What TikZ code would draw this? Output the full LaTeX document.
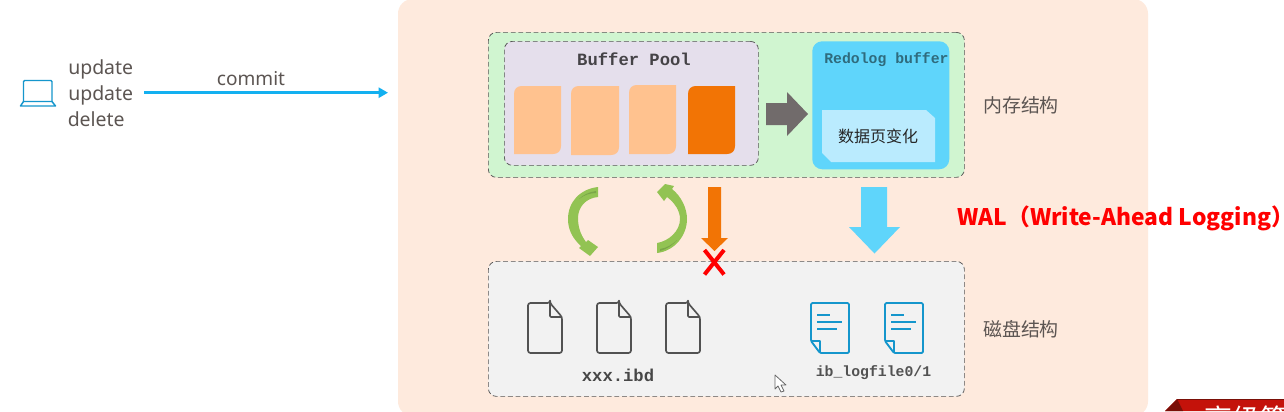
\documentclass[tikz,border=0pt]{standalone}
\usepackage{fontspec}
\setmainfont{Noto Sans}
\setmonofont{Liberation Mono}
\newfontfamily\cjk{Noto Sans CJK SC}
\usetikzlibrary{arrows.meta}
\definecolor{peach}{HTML}{FEEADD}
\definecolor{memgreen}{HTML}{D0F5D0}
\definecolor{poolbg}{HTML}{E5DFEC}
\definecolor{pagelight}{HTML}{FFC28F}
\definecolor{pagedark}{HTML}{F27405}
\definecolor{skyblue}{HTML}{5FD5FB}
\definecolor{paleblue}{HTML}{BAEBFE}
\definecolor{diskgray}{HTML}{F2F2F2}
\definecolor{dashgray}{HTML}{555555}
\definecolor{leaf}{HTML}{92C353}
\definecolor{leafdark}{HTML}{7AA648}
\definecolor{iconblue}{HTML}{1596CC}
\definecolor{linkblue}{HTML}{13B0F0}
\definecolor{textgray}{HTML}{5C5552}
\definecolor{slatearrow}{HTML}{716B6B}
\definecolor{bannerred}{HTML}{C4120A}
\definecolor{bannerdark}{HTML}{7A0F08}
\tikzset{
  x=0.75pt,y=-0.75pt,
  dashbox/.style={draw=dashgray,line width=0.55pt,dash pattern=on 3.6pt off 2.1pt,rounded corners=6pt},
  label/.style={inner sep=0pt,text=textgray,font=\cjk\fontsize{14.2}{16}\selectfont},
  monob/.style={inner sep=0pt,font=\ttfamily\bfseries\fontsize{12.9}{14}\selectfont,text=black!70!poolbg},
  monos/.style={inner sep=0pt,font=\ttfamily\bfseries\fontsize{11.1}{13}\selectfont},
  opword/.style={inner sep=0pt,anchor=base west,text=textgray,font=\fontsize{14.6}{17}\selectfont},
  docicon/.style={draw=black!68,line width=1.25pt,rounded corners=1.8pt,line join=round},
  logicon/.style={draw=iconblue,line width=1.4pt,line join=round},
  logline/.style={draw=iconblue,line width=1.3pt},
  leafshape/.style={fill=leaf,draw=none},
}
\newcommand{\pagecard}[5]{\fill[#5] (#1+8,#2) -- (#3,#2) -- (#3,#4-8) .. controls (#3,#4-3) and (#3-3,#4) .. (#3-8,#4) -- (#1,#4) -- (#1,#2+8) .. controls (#1,#2+3) and (#1+3,#2) .. (#1+8,#2) -- cycle;}
\newcommand{\docfile}[1]{\begin{scope}[shift={(#1,303)}]
  \draw[docicon] (22,0) -- (0,0) -- (0,50) -- (34,50) -- (34,14) -- (22,0) -- cycle;
  \draw[docicon,rounded corners=0.8pt] (22,0) -- (22,14) -- (34,14);
\end{scope}}
\newcommand{\logfile}[1]{\begin{scope}[shift={(#1,303)}]
  \draw[logicon,rounded corners=1pt] (0,38) -- (0,0) -- (38,0) -- (38,50) -- (9,50) -- cycle;
  \draw[logicon] (0,38) -- (9,38) -- (9,50);
  \draw[logline] (6,12) -- (19,12);
  \draw[logline] (6,19) -- (31,19);
  \draw[logline] (6,26) -- (26,26);
\end{scope}}
\begin{document}
\begin{tikzpicture}
\useasboundingbox (0,0) rectangle (1284,411);
\fill[white] (0,0) rectangle (1284,411);
% panel
\begin{scope}
\clip (0,0) rectangle (1284,411);
\fill[peach,rounded corners=11pt] (398,-1) rectangle (1148,416);
\end{scope}
% containers
\node[dashbox,fill=memgreen,minimum width=357pt,minimum height=108.75pt,inner sep=0pt,anchor=north west] (mem) at (488,32) {};
\node[dashbox,fill=poolbg,minimum width=190.5pt,minimum height=93pt,inner sep=0pt,anchor=north west] (pool) at (504,41) {};
\node[dashbox,fill=diskgray,minimum width=357pt,minimum height=101.25pt,inner sep=0pt,anchor=north west] (disk) at (488,261) {};
\node[fill=skyblue,rounded corners=7.5pt,minimum width=102.75pt,minimum height=96pt,inner sep=0pt,anchor=north west] (redo) at (812,41) {};
% buffer pool
\node[monob] (pooltitle) at (634,59.5) {Buffer Pool};
\pagecard{514}{86}{561}{154}{pagelight}
\pagecard{571}{86}{619}{155}{pagelight}
\pagecard{629}{85}{676}{154}{pagelight}
\pagecard{688}{86}{735}{154}{pagedark}
% redo
\node[monos,text=black!50!skyblue,anchor=west] (redotitle) at (824,59.5) {Redolog buffer};
\fill[paleblue] (822,110) -- (926,110) -- (935,118) -- (935,162) -- (831,162) -- (822,153) -- cycle;
\node[inner sep=0pt,font=\cjk\fontsize{12}{14}\selectfont,text=black!85] (change) at (878,136) {数据页变化};
% gray arrow
\fill[slatearrow] (766,103) -- (787,103) -- (787,92) -- (808,114) -- (787,136) -- (787,125) -- (766,125) -- cycle;
% labels
\node[label] (memlabel) at (1021,105) {内存结构};
\node[label] (disklabel) at (1021,329) {磁盘结构};
% green curved arrows
\fill[leafshape] (598,187) .. controls (580,189) and (568,202) .. (568,219) .. controls (568,229) and (572,238) .. (581,246) -- (579,248) -- (590,256) -- (598,247) -- (588,240) -- (586,242) .. controls (580,234) and (578,226) .. (578,218) .. controls (578,207) and (586,198) .. (598,197) -- cycle;
\fill[leafdark] (596,191) .. controls (589,192) and (583,195) .. (579,199) .. controls (584,195) and (590,193) .. (596,193) -- cycle;
\fill[leafshape] (657,253) .. controls (675,251) and (687,235) .. (687,219) .. controls (687,208) and (681,196) .. (672,189) -- (674,186) -- (665,184) -- (657,192) -- (664,201) -- (667,197) .. controls (675,203) and (680,211) .. (680,219) .. controls (680,231) and (669,241) .. (657,243) -- cycle;
\fill[leafdark] (660,249) .. controls (667,248) and (673,244) .. (677,240) .. controls (673,245) and (667,249) .. (660,251) -- cycle;
% orange arrow
\fill[pagedark] (708,187) -- (721,187) -- (721,238) -- (728,238) -- (714.5,251) -- (701,238) -- (708,238) -- cycle;
% blue arrow
\fill[skyblue] (861,187) -- (887,187) -- (887,227) -- (900,227) -- (874.5,253.5) -- (849,227) -- (861,227) -- cycle;
% red cross
\draw[red,line width=3pt] (704.5,250) -- (724,274.5);
\draw[red,line width=3pt] (724,250) -- (704.5,274.5);
% WAL
\node[inner sep=0pt,anchor=west,text=red,font=\cjk\bfseries\fontsize{17.1}{19}\selectfont] (wal) at (957,218) {WAL（Write-Ahead Logging）};
% files
\docfile{528}
\docfile{597}
\docfile{666}
\logfile{811}
\logfile{885}
\node[monob,text=black!72] (ibd) at (618,375) {xxx.ibd};
\node[monos,text=black!68] (iblog) at (873.5,373) {ib\_logfile0/1};
% client
\draw[draw=iconblue,line width=1pt,rounded corners=0.8pt] (23.5,102) -- (23.5,80.5) -- (52,80.5) -- (52,102);
\draw[draw=iconblue,line width=1.1pt,line join=round] (23.5,101.5) -- (20.5,106) -- (55.5,106) -- (52,101.5) -- cycle;
\node[opword] (op1) at (68,74) {update};
\node[opword] (op2) at (68,100) {update};
\node[opword] (op3) at (67.5,126) {delete};
\coordinate (commitstart) at (144,92.7);
\coordinate (commitend) at (388,92.7);
\draw[draw=linkblue,line width=2pt,-{Triangle[length=7pt,width=7.5pt]}] (commitstart) -- (commitend);
\node[inner sep=0pt,text=textgray,font=\fontsize{14.3}{17}\selectfont] (commit) at (251,79) {commit};
% cursor
\draw[draw=black!60,fill=white,line width=0.6pt,line join=round] (775,375) -- (775,389) -- (778,386) -- (781,392) -- (784,391) -- (781,385) -- (786,385) -- cycle;
% banner
\begin{scope}
\clip (0,0) rectangle (1284,411);
\fill[bannerred] (1165,411) -- (1177,399) -- (1284,399) -- (1284,411) -- cycle;
\fill[bannerdark] (1165,411) -- (1177,399) -- (1183,411) -- cycle;
\draw[bannerdark,line width=0.6pt] (1177,399) -- (1284,399);
\node[inner sep=0pt,anchor=north west,text=white,font=\cjk\fontsize{21}{24}\selectfont] (banner) at (1204,406) {高级篇};
\end{scope}
\end{tikzpicture}
\end{document}
